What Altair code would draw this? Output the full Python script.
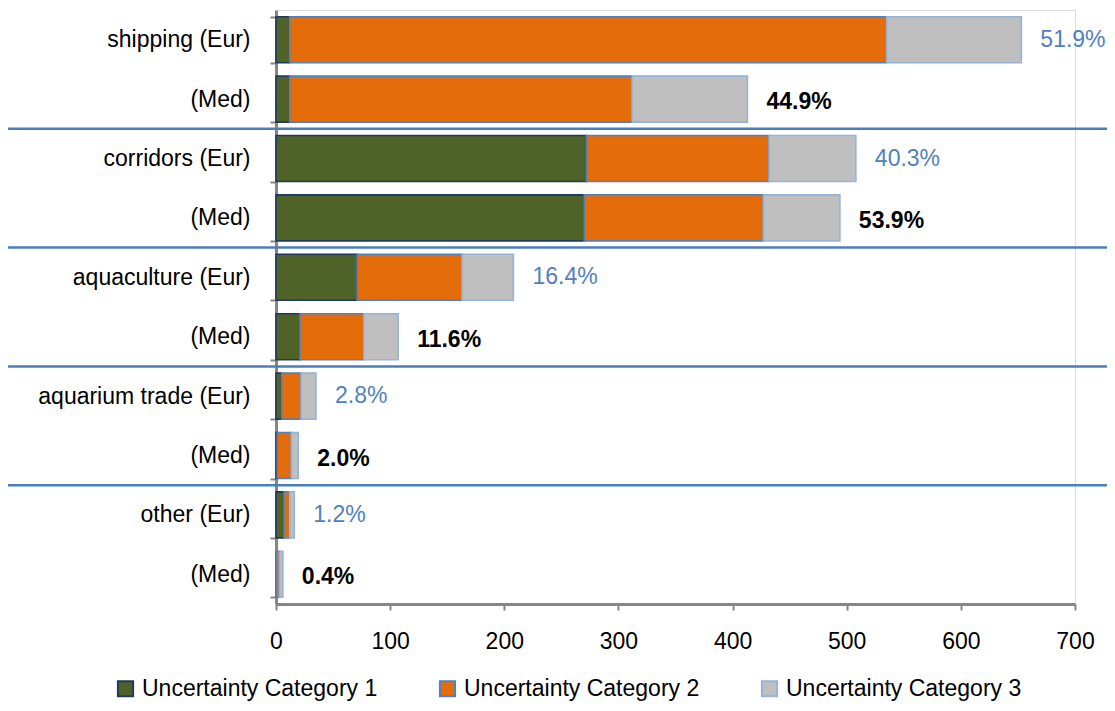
import altair as alt
import pandas as pd

rows = ["shipping (Eur)", "shipping (Med)", "corridors (Eur)", "corridors (Med)",
        "aquaculture (Eur)", "aquaculture (Med)", "aquarium trade (Eur)", "aquarium trade (Med)",
        "other (Eur)", "other (Med)"]
cats = ["Uncertainty Category 1", "Uncertainty Category 2", "Uncertainty Category 3"]
cat1 = [12, 12, 272, 270, 71, 21, 5, 1, 7, 0]
cat2 = [523, 300, 160, 157, 92, 56, 17, 12.5, 5, 3]
cat3 = [118, 101, 76, 67, 45, 30, 13, 6, 4, 3]
pct_labels = ["51.9%", "44.9%", "40.3%", "53.9%", "16.4%", "11.6%", "2.8%", "2.0%", "1.2%", "0.4%"]
separators_after = ["shipping (Med)", "corridors (Med)", "aquaculture (Med)", "aquarium trade (Med)"]

fills = ["#4F6228", "#E46C0A", "#BFBFBF"]
strokes = ["#1F3A5F", "#4F81BD", "#95B3D7"]
FONT = "Liberation Sans"

long_rows = []
for i, r in enumerate(rows):
    for k, vals in enumerate([cat1, cat2, cat3]):
        long_rows.append({"row": r, "cat": cats[k], "order": k, "value": vals[i]})
bars_df = pd.DataFrame(long_rows)

totals_df = pd.DataFrame({
    "row": rows,
    "total": [a + b + c for a, b, c in zip(cat1, cat2, cat3)],
    "label": pct_labels,
    "region": ["Eur" if "(Eur)" in r else "Med" for r in rows],
})
sep_df = pd.DataFrame({"row": separators_after})

H = 594
STEP = H / len(rows)

y_enc = alt.Y(
    "row:N", sort=rows, title=None,
    scale=alt.Scale(paddingInner=0.225, paddingOuter=0.1125),
    axis=alt.Axis(
        labelExpr="indexof(datum.label, '(Med)') >= 0 ? '(Med)' : datum.label",
        labelFont=FONT, labelFontSize=23, labelColor="#000000", labelPadding=20,
        labelLimit=400, tickBand="extent", tickSize=6, tickColor="#868686", tickWidth=2,
        domainColor="#868686", domainWidth=3,
    ),
)

legend_kw = dict(title=None, orient="none", legendX=-162, legendY=667,
                 direction="horizontal", symbolType="square", symbolSize=230,
                 symbolStrokeWidth=2, labelFont=FONT, labelFontSize=23,
                 labelColor="#000000", columnPadding=57, labelOffset=5, labelLimit=400)

bars = alt.Chart(bars_df).mark_bar(strokeWidth=1.6).encode(
    y=y_enc,
    x=alt.X("value:Q", stack="zero", title=None,
            scale=alt.Scale(domain=[0, 700], nice=False),
            axis=alt.Axis(values=[0, 100, 200, 300, 400, 500, 600, 700], grid=False,
                          labelFont=FONT, labelFontSize=23, labelColor="#000000",
                          labelPadding=20, tickSize=6, tickColor="#868686", tickWidth=2,
                          domainColor="#868686", domainWidth=3, labelFlush=False)),
    fill=alt.Fill("cat:N", scale=alt.Scale(domain=cats, range=fills),
                  legend=alt.Legend(**legend_kw)),
    stroke=alt.Stroke("cat:N", scale=alt.Scale(domain=cats, range=strokes),
                      legend=alt.Legend(**legend_kw)),
    order=alt.Order("order:Q"),
)

eur_text = alt.Chart(totals_df).transform_filter("datum.region == 'Eur'").mark_text(
    align="left", baseline="middle", dx=19, font=FONT, fontSize=23, color="#4F81BD"
).encode(y=alt.Y("row:N", sort=rows), x="total:Q", text="label:N")

med_text = alt.Chart(totals_df).transform_filter("datum.region == 'Med'").mark_text(
    align="left", baseline="middle", dx=19, dy=3, font=FONT, fontSize=23, fontWeight="bold",
    color="#000000"
).encode(y=alt.Y("row:N", sort=rows), x="total:Q", text="label:N")

seps = alt.Chart(sep_df).mark_rule(color="#4A7EBB", strokeWidth=2.5, yOffset=STEP / 2).encode(
    y=alt.Y("row:N", sort=rows),
    x=alt.value(-276),
    x2=alt.value(840),
)

chart = alt.layer(bars, seps, eur_text, med_text).properties(
    width=799, height=H,
    autosize=alt.AutoSizeParams(type="none"),
    padding={"left": 268, "top": 2, "right": 32, "bottom": 99},
).configure_view(stroke=None).configure(background="white")

chart.save("out.html", embed_options={"renderer": "svg", "actions": False})
